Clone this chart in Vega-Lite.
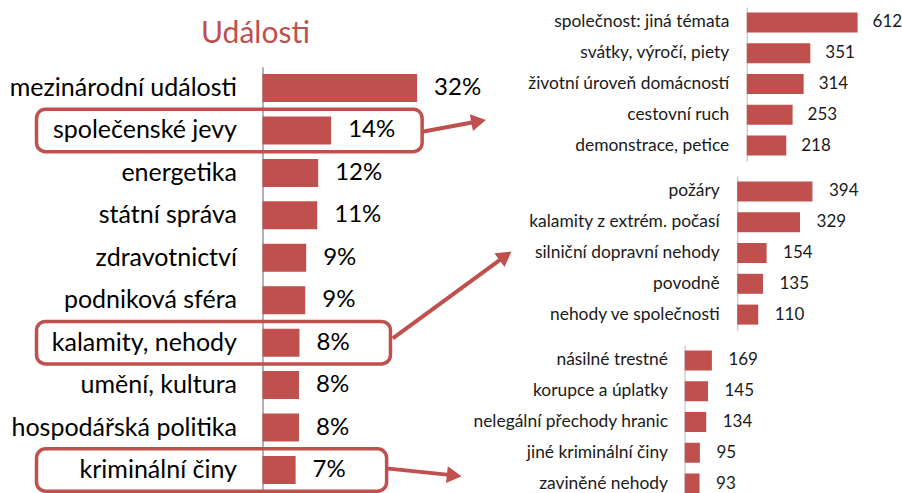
{
  "$schema": "https://vega.github.io/schema/vega-lite/v6.json",
  "background": "white",
  "padding": {"left": 8.5, "top": 7, "right": 0, "bottom": 0},
  "bounds": "flush",
  "spacing": 230,
  "config": {"view": {"stroke": null}, "font": "Lato"},
  "hconcat": [
    {
      "title": {"text": "Události", "color": "#C0504D", "fontSize": 30, "font": "Lato", "fontWeight": "normal", "anchor": "middle", "frame": "group", "dx": -103, "dy": 30.5, "offset": -35.7, "baseline": "alphabetic"},
      "width": 192,
      "height": 486,
      "data": {"values": [
        {"category": "mezinárodní události", "share": 0.322, "highlight": false},
        {"category": "společenské jevy", "share": 0.143, "highlight": true},
        {"category": "energetika", "share": 0.116, "highlight": false},
        {"category": "státní správa", "share": 0.114, "highlight": false},
        {"category": "zdravotnictví", "share": 0.091, "highlight": false},
        {"category": "podniková sféra", "share": 0.089, "highlight": false},
        {"category": "kalamity, nehody", "share": 0.077, "highlight": true},
        {"category": "umění, kultura", "share": 0.076, "highlight": false},
        {"category": "hospodářská politika", "share": 0.076, "highlight": false},
        {"category": "kriminální činy", "share": 0.069, "highlight": true}
      ]},
      "encoding": {
        "y": {"field": "category", "type": "nominal", "sort": null,
          "scale": {"range": [59.8, 484.2], "paddingInner": 0, "paddingOuter": 0},
          "axis": {"title": null, "ticks": false, "labelFont": "Lato", "labelFontSize": 25, "labelColor": "#000000", "labelPadding": 26, "labelLimit": 500, "domainColor": "#999999", "domainWidth": 1.5}},
        "x": {"field": "share", "type": "quantitative", "scale": {"domain": [0, 0.4], "nice": false}, "axis": null}
      },
      "layer": [
        {
          "mark": {"type": "bar", "color": "#C0504D", "height": 28}
        },
        {
          "mark": {"type": "text", "align": "left", "baseline": "middle", "dx": 17, "font": "Lato", "fontSize": 24, "color": "#000000"},
          "encoding": {"text": {"field": "share", "type": "quantitative", "format": ".0%"}}
        },
        {
          "transform": [{"filter": "datum.highlight"}, {"joinaggregate": [{"op": "min", "field": "share", "as": "minShare"}]}],
          "mark": {"type": "rect", "filled": false, "color": "#C0504D", "strokeWidth": 3.5, "cornerRadius": 9, "xOffset": 91, "x2Offset": -259.1},
          "encoding": {"x2": {"field": "minShare"}}
        },
        {
          "transform": [{"filter": "datum.category == 'společenské jevy'"}],
          "mark": {"type": "rule", "color": "#C0504D", "strokeWidth": 4, "xOffset": 91.1, "x2Offset": 147.5, "yOffset": 1.2, "y2Offset": -9.2},
          "encoding": {"x2": {"field": "share"}, "y2": {"field": "category"}}
        },
        {
          "transform": [{"filter": "datum.category == 'společenské jevy'"}],
          "mark": {"type": "point", "shape": "triangle-right", "filled": true, "color": "#C0504D", "opacity": 1, "size": 290, "angle": -10.5, "xOffset": 147.5, "yOffset": -9.2, "strokeWidth": 0}
        },
        {
          "transform": [{"filter": "datum.category == 'kalamity, nehody'"}],
          "mark": {"type": "rule", "color": "#C0504D", "strokeWidth": 4, "xOffset": 93.3, "x2Offset": 206.0, "yOffset": -4.3, "y2Offset": -86.8},
          "encoding": {"x2": {"field": "share"}, "y2": {"field": "category"}}
        },
        {
          "transform": [{"filter": "datum.category == 'kalamity, nehody'"}],
          "mark": {"type": "point", "shape": "triangle-right", "filled": true, "color": "#C0504D", "opacity": 1, "size": 290, "angle": -36.2, "xOffset": 206.0, "yOffset": -86.8, "strokeWidth": 0}
        },
        {
          "transform": [{"filter": "datum.category == 'kriminální činy'"}],
          "mark": {"type": "rule", "color": "#C0504D", "strokeWidth": 4, "xOffset": 90.6, "x2Offset": 158.6, "yOffset": -1.6, "y2Offset": 5.4},
          "encoding": {"x2": {"field": "share"}, "y2": {"field": "category"}}
        },
        {
          "transform": [{"filter": "datum.category == 'kriminální činy'"}],
          "mark": {"type": "point", "shape": "triangle-right", "filled": true, "color": "#C0504D", "opacity": 1, "size": 290, "angle": 5.9, "xOffset": 158.6, "yOffset": 5.4, "strokeWidth": 0}
        }
      ]
    },
    {
      "vconcat": [
        {
          "width": 210,
          "height": 154,
          "data": {"values": [
            {"topic": "společnost: jiná témata", "count": 612},
            {"topic": "svátky, výročí, piety", "count": 351},
            {"topic": "životní úroveň domácností", "count": 314},
            {"topic": "cestovní ruch", "count": 253},
            {"topic": "demonstrace, petice", "count": 218}
          ]},
          "encoding": {
            "y": {"field": "topic", "type": "nominal", "sort": null, "scale": {"paddingInner": 0, "paddingOuter": 0},
              "axis": {"title": null, "ticks": false, "offset": -62.3, "labelFont": "Lato", "labelFontSize": 17.4, "labelColor": "#1a1a1a", "labelPadding": 18, "labelLimit": 500, "domainColor": "#D0D0D0", "domainWidth": 1.5}},
            "x": {"field": "count", "type": "quantitative", "scale": {"domain": [-344.2, 816], "nice": false}, "axis": null}
          },
          "layer": [
            {"mark": {"type": "bar", "color": "#C0504D", "height": 20}},
            {"mark": {"type": "text", "align": "left", "baseline": "middle", "dx": 15, "font": "Lato", "fontSize": 17, "color": "#1a1a1a"}, "encoding": {"text": {"field": "count", "type": "quantitative"}}}
          ]
        },
        {
          "width": 210,
          "height": 154,
          "data": {"values": [
            {"topic": "požáry", "count": 394},
            {"topic": "kalamity z extrém. počasí", "count": 329},
            {"topic": "silniční dopravní nehody", "count": 154},
            {"topic": "povodně", "count": 135},
            {"topic": "nehody ve společnosti", "count": 110}
          ]},
          "encoding": {
            "y": {"field": "topic", "type": "nominal", "sort": null, "scale": {"paddingInner": 0, "paddingOuter": 0},
              "axis": {"title": null, "ticks": false, "offset": -52.7, "labelFont": "Lato", "labelFontSize": 17.4, "labelColor": "#1a1a1a", "labelPadding": 18, "labelLimit": 500, "domainColor": "#D0D0D0", "domainWidth": 1.5}},
            "x": {"field": "count", "type": "quantitative", "scale": {"domain": [-275.9, 823.6], "nice": false}, "axis": null}
          },
          "layer": [
            {"mark": {"type": "bar", "color": "#C0504D", "height": 20}},
            {"mark": {"type": "text", "align": "left", "baseline": "middle", "dx": 16.5, "font": "Lato", "fontSize": 17, "color": "#1a1a1a"}, "encoding": {"text": {"field": "count", "type": "quantitative"}}}
          ]
        },
        {
          "width": 210,
          "height": 148,
          "data": {"values": [
            {"topic": "násilné trestné", "count": 169},
            {"topic": "korupce a úplatky", "count": 145},
            {"topic": "nelegální přechody hranic", "count": 134},
            {"topic": "jiné kriminální činy", "count": 95},
            {"topic": "zaviněné nehody", "count": 93}
          ]},
          "encoding": {
            "y": {"field": "topic", "type": "nominal", "sort": null, "scale": {"range": [0, 154], "paddingInner": 0, "paddingOuter": 0},
              "axis": {"title": null, "ticks": false, "labelFont": "Lato", "labelFontSize": 17.4, "labelColor": "#1a1a1a", "labelPadding": 17, "labelLimit": 500, "domainColor": "#D0D0D0", "domainWidth": 1.5}},
            "x": {"field": "count", "type": "quantitative", "scale": {"domain": [0, 1296], "nice": false}, "axis": null}
          },
          "layer": [
            {"mark": {"type": "bar", "color": "#C0504D", "height": 20, "clip": true}},
            {"mark": {"type": "text", "align": "left", "baseline": "middle", "dx": 16.5, "font": "Lato", "fontSize": 17, "color": "#1a1a1a"}, "encoding": {"text": {"field": "count", "type": "quantitative"}}}
          ]
        }
      ],
      "spacing": 15,
      "bounds": "flush"
    }
  ]
}
